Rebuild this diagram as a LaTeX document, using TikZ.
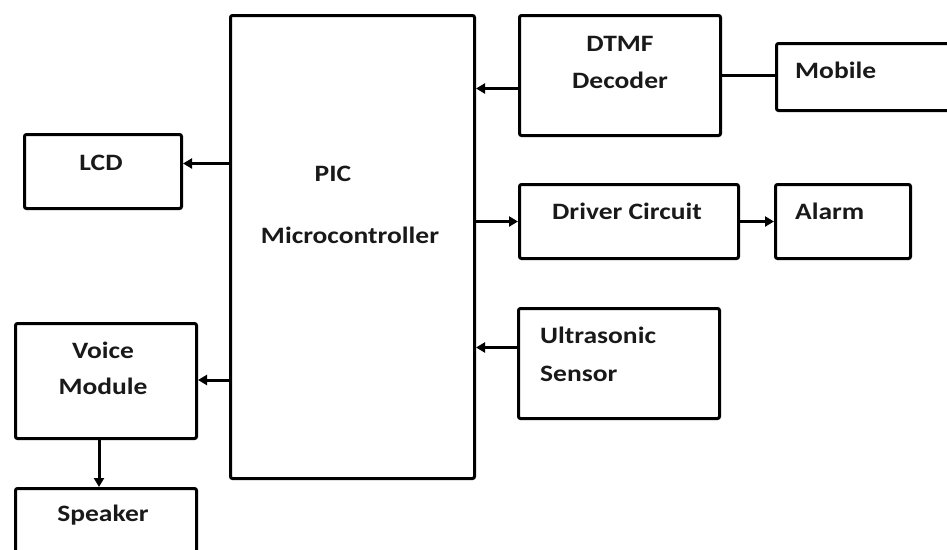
\documentclass[tikz,border=0pt]{standalone}
\usepackage{fontspec}
\setmainfont{Carlito}[FakeStretch=1.17]
\usetikzlibrary{arrows.meta}
\begin{document}
\begin{tikzpicture}[x=1pt,y=-1pt,
  box/.style={draw=black,line width=3pt,rounded corners=2pt,anchor=north west,inner sep=0pt},
  lbl/.style={font=\bfseries\fontsize{23.5}{28}\selectfont,inner sep=0pt,text=black!90},
  conn/.style={line width=3pt},
  arr/.style={conn,-{Triangle[length=9pt,width=10pt]}}]
\useasboundingbox (0,0) rectangle (947,549);
\clip (0,0) rectangle (947,549);
% boxes
\node[box,minimum width=244pt,minimum height=463pt] (pic) at (229,14) {};
\node[box,minimum width=201pt,minimum height=120pt] (dtmf) at (518,14) {};
\node[box,minimum width=200pt,minimum height=67pt] (mobile) at (775,42) {};
\node[box,minimum width=157pt,minimum height=74pt] (lcd) at (23,133) {};
\node[box,minimum width=219pt,minimum height=74pt] (driver) at (518,183) {};
\node[box,minimum width=135pt,minimum height=74pt] (alarm) at (774,183) {};
\node[box,minimum width=201pt,minimum height=110pt] (ultra) at (517,307) {};
\node[box,minimum width=181pt,minimum height=115pt] (voice) at (14,322) {};
\node[box,minimum width=181pt,minimum height=90pt] (speaker) at (14,487) {};
% texts
\node[lbl,anchor=base] (tdtmf1) at (620,51) {DTMF};
\node[lbl,anchor=base] (tdtmf2) at (620,88) {Decoder};
\node[lbl,anchor=base west] (tmobile) at (795,78) {Mobile};
\node[lbl,anchor=base] (tlcd) at (101,170) {LCD};
\node[lbl,anchor=base] (tpic1) at (333,181) {PIC};
\node[lbl,anchor=base] (tpic2) at (350,243) {Microcontroller};
\node[lbl,anchor=base] (tdriver) at (627,219) {Driver Circuit};
\node[lbl,anchor=base west] (talarm) at (795,219) {Alarm};
\node[lbl,anchor=base west] (tultra1) at (540,343) {Ultrasonic};
\node[lbl,anchor=base west] (tultra2) at (540,381) {Sensor};
\node[lbl,anchor=base] (tvoice1) at (103,358) {Voice};
\node[lbl,anchor=base] (tvoice2) at (103,394) {Module};
\node[lbl,anchor=base] (tspeaker) at (103,521) {Speaker};
% connectors
\coordinate (d1) at ([yshift=-13pt]dtmf.west);
\draw[arr] (d1) -- (d1 -| pic.east);
\draw[conn] (dtmf.east) -- (dtmf.east -| mobile.west);
\coordinate (l1) at ([yshift=8pt]lcd.east);
\draw[arr] (l1 -| pic.west) -- (l1);
\draw[arr] (pic.east |- driver.west) -- (driver.west);
\draw[arr] (driver.east) -- (driver.east -| alarm.west);
\coordinate (u1) at ([yshift=16pt]ultra.west);
\draw[arr] (u1) -- (u1 -| pic.east);
\coordinate (v1) at ([yshift=1pt]voice.east);
\draw[arr] (v1 -| pic.west) -- (v1);
\coordinate (v2) at ([xshift=-7pt]voice.south);
\draw[arr] (v2) -- (v2 |- speaker.north);
\end{tikzpicture}
\end{document}
